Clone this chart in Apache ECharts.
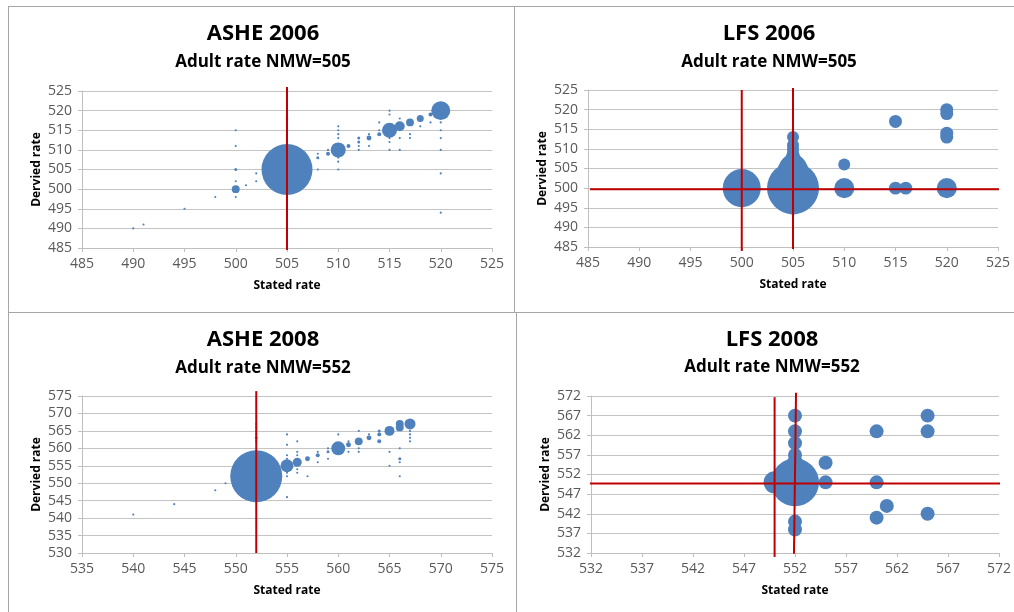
<!DOCTYPE html>
<html><head><meta charset="utf-8">
<script src="https://cdn.jsdelivr.net/npm/echarts@6/dist/echarts.min.js"></script>
<style>html,body{margin:0;padding:0;background:#fff}#c{width:1014px;height:612px}</style>
</head><body><div id="c"></div>
<script>
// ---- DATA ----  [stated rate, derived rate, weight]
const titles = ['ASHE 2006', 'LFS 2006', 'ASHE 2008', 'LFS 2008'];
const subtitles = ['Adult rate NMW=505', 'Adult rate NMW=505', 'Adult rate NMW=552', 'Adult rate NMW=552'];
const xRanges = [[485, 525], [485, 525], [535, 575], [532, 572]];
const yRanges = [[485, 525], [485, 525], [530, 575], [532, 572]];

const ashe2006 = [
  [505,505,1156],[520,520,160],[515,515,100],[510,510,100],[516,516,44],[517,517,28],[518,518,22],
  [500,500,28],[513,513,11],[514,514,7],[511,511,7],[509,509,7],[508,508,4],[519,519,7],
  [512,512,4],[512,513,4],[500,505,4],
  [505,520,2],[505,519,2],[505,518,3],[505,517,2],[505,516,2],[505,515,2],[505,514,2],[505,513,2],[505,497,2],
  [500,515,2],[500,511,2],[500,502,2],[500,498,2],
  [490,490,2],[491,491,2],[495,495,2],[498,498,2],[501,501,2],[502,502,2],[502,504,2],
  [508,505,2],[508,509,2],[509,510,2],
  [510,516,2],[510,515,2],[510,514,2],[510,513,2],[510,508,2],[510,507,2],[510,505,2],
  [512,511,2],[512,510,2],[513,514,2],[513,511,2],[514,515,2],[514,517,2],
  [515,520,2],[515,519,2],[515,513,2],[515,512,2],[515,510,2],
  [516,518,2],[516,513,2],[516,510,2],[517,514,2],[517,513,2],[518,516,2],[519,517,2],
  [520,517,2],[520,515,2],[520,513,2],[520,510,2],[520,504,2],[520,494,2]
];
const lfs2006 = [
  [500,500,642],[505,500,1202],[505,513,64],[505,511,64],[505,510,64],[505,509,64],[505,508,87],
  [505,507,110],[505,506,215],[505,505,348],[505,504,450],[505,495,87],
  [510,506,64],[510,500,178],[515,517,75],[515,500,75],[516,500,75],
  [520,520,75],[520,519,75],[520,514,75],[520,513,75],[520,500,178]
];
const ashe2008 = [
  [552,552,1202],[555,555,75],[556,556,36],[557,557,11],[558,558,7],[559,559,4],[560,560,87],
  [561,561,11],[562,562,28],[563,563,11],[564,564,7],[564,565,4],[564,562,7],[565,565,44],
  [566,567,28],[566,566,28],[567,567,54],[552,563,4],
  [540,541,2],[544,544,2],[548,548,2],[549,550,2],
  [552,567,2],[552,566,2],[552,565,2],[552,564,2],[552,562,2],
  [555,564,2],[555,561,2],[555,558,2],[555,557,2],[555,553,2],[555,552,2],[555,546,2],
  [556,562,2],[556,559,2],[556,558,2],[556,554,2],[556,553,2],
  [557,552,2],[558,559,2],[558,556,2],[559,560,2],[559,557,2],[560,564,2],
  [561,562,2],[561,559,2],[562,565,2],[562,560,2],[562,559,2],[563,564,2],
  [565,559,2],[565,555,2],[566,560,2],[566,557,4],[566,556,2],[566,552,2],
  [567,565,2],[567,564,2],[567,563,2],[567,562,2]
];
const lfs2008 = [
  [552,550,1024],[550,550,215],[552,567,87],[552,563,87],[552,560,87],[552,557,87],[552,555,114],
  [552,540,87],[552,538,87],[555,555,87],[555,550,87],[560,563,87],[560,550,87],[561,544,87],
  [560,541,87],[565,567,87],[565,563,87],[565,542,87]
];
const bubbles = [ashe2006, lfs2006, ashe2008, lfs2008];

// reference lines (red), endpoints in data values
const refLines = [
  [[[505,526],[505,484.5]]],
  [[[500,525],[500,484]], [[505,525.5],[505,484.5]], [[485.2,499.7],[530,499.7]]],
  [[[552,576.4],[552,530]]],
  [[[550,571.7],[550,531]], [[552.1,572.8],[551.9,531.8]], [[531.2,549.7],[573,549.7]]]
];

// ---- LAYOUT / STYLE ----
const FONT = '"Open Sans", "Liberation Sans", sans-serif';
const grids = [
  {left:82, top:91, width:410, height:157},
  {left:588, top:90, width:410, height:157},
  {left:82, top:396, width:410, height:157},
  {left:591, top:396, width:410, height:157}
];
const titlePos = [[263,34,62],[769,33.5,61.7],[263,339.3,367.7],[772,339.3,367.3]];

const option = {
  animation: false,
  backgroundColor: '#fff',
  title: [],
  grid: grids,
  xAxis: [], yAxis: [], series: [],
  graphic: []
};

for (let i = 0; i < 4; i++) {
  const tp = titlePos[i];
  option.title.push({text: titles[i], left: tp[0], top: tp[1], textAlign:'center', textVerticalAlign:'middle', padding:0,
    textStyle:{fontFamily:FONT, fontSize:22, fontWeight:'bold', color:'#000'}});
  option.title.push({text: subtitles[i], left: tp[0], top: tp[2], textAlign:'center', textVerticalAlign:'middle', padding:0,
    textStyle:{fontFamily:FONT, fontSize:17, fontWeight:'bold', color:'#000'}});
  option.xAxis.push({
    gridIndex:i, type:'value', min:xRanges[i][0], max:xRanges[i][1], interval:5,
    name:'Stated rate', nameLocation:'middle', nameGap:32,
    nameTextStyle:{fontFamily:FONT, fontSize:12, fontWeight:'bold', color:'#000'},
    axisLine:{show:true, lineStyle:{color:'#bfbfbf', width:1}},
    axisTick:{show:true, length:4, lineStyle:{color:'#bfbfbf'}},
    axisLabel:{fontFamily:FONT, fontSize:14, color:'#595959', margin:9},
    splitLine:{show:false}
  });
  option.yAxis.push({
    gridIndex:i, type:'value', min:yRanges[i][0], max:yRanges[i][1], interval:5,
    name:'Dervied rate', nameLocation:'middle', nameGap:39,
    nameTextStyle:{fontFamily:FONT, fontSize:12, fontWeight:'bold', color:'#000'},
    axisLine:{show:true, lineStyle:{color:'#bfbfbf', width:1}},
    axisTick:{show:true, length:4, lineStyle:{color:'#bfbfbf'}},
    axisLabel:{fontFamily:FONT, fontSize:14, color:'#595959', margin:10},
    splitLine:{show:true, lineStyle:{color:'#c4c4c4', width:1}}
  });
  option.series.push({
    type:'scatter', xAxisIndex:i, yAxisIndex:i, data:bubbles[i],
    symbolSize: d => Math.max(2, 1.5*Math.sqrt(d[2])),
    itemStyle:{color:'#4f81bd', opacity:1}, silent:true, z:2
  });
  refLines[i].forEach(seg => {
    option.series.push({
      type:'line', xAxisIndex:i, yAxisIndex:i, data:seg, symbol:'none', clip:false, silent:true, z:5,
      lineStyle:{color:'#c00000', width:2}
    });
  });
}

// panel borders
const B = '#a6a6a6';
const seg = (x1,y1,x2,y2) => ({type:'line', shape:{x1,y1,x2,y2}, style:{stroke:B, lineWidth:1}, silent:true});
option.graphic = [
  seg(8,6.5,1014,6.5),
  seg(8.5,6.5,8.5,612),
  seg(8,312.5,1014,312.5),
  seg(514.5,6.5,514.5,312.5),
  seg(516.5,312.5,516.5,612)
];

const chart = echarts.init(document.getElementById('c'), null, {renderer:'canvas'});
chart.setOption(option);
</script>
</body></html>
